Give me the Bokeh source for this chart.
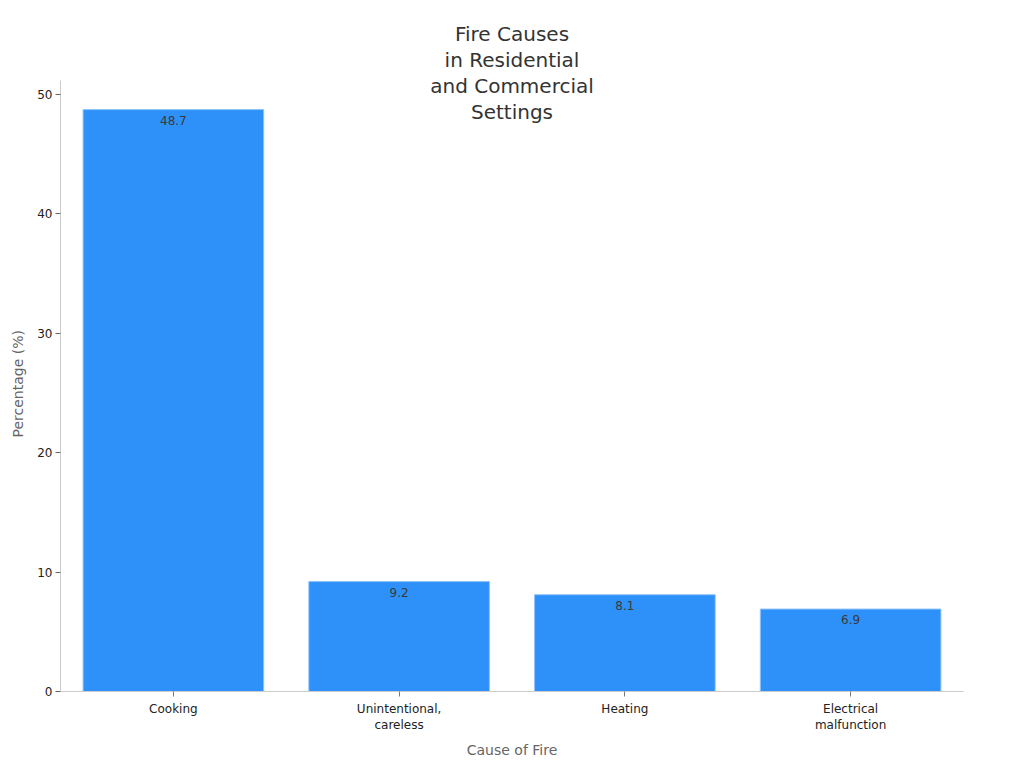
from bokeh.plotting import figure
from bokeh.models import ColumnDataSource, LabelSet, Label, Range1d, Title
from bokeh.core.properties import value
from bokeh.embed import file_html
from bokeh.resources import INLINE

categories = ["Cooking", "Unintentional,\ncareless", "Heating", "Electrical\nmalfunction"]
values = [48.7, 9.2, 8.1, 6.9]
value_labels = ["48.7", "9.2", "8.1", "6.9"]
title_lines = ["Fire Causes", "in Residential", "and Commercial", "Settings"]
x_title = "Cause of Fire"
y_title = "Percentage (%)"

FONT = "DejaVu Sans"

# layout (pixels)
FRAME_TOP_EXTRA = 64       # room above the value axis for the overlapping title
AXIS_PX = 611              # pixel height of the value axis
LINE_CENTERS_PX = [47, 21, -5, -31]  # title line centres, px above axis top

y_axis_max = max(values) * 1.05
px_per_unit = AXIS_PX / y_axis_max
y_frame_max = y_axis_max + FRAME_TOP_EXTRA / px_per_unit

src = ColumnDataSource(dict(cat=categories, val=values, lab=value_labels))

p = figure(x_range=categories, frame_width=903, frame_height=AXIS_PX + FRAME_TOP_EXTRA,
           output_backend="svg", toolbar_location=None,
           min_border_left=60, min_border_right=45, min_border_top=16, min_border_bottom=69)
p.y_range = Range1d(0, y_frame_max)
p.x_range.range_padding = 0

p.vbar(x="cat", top="val", width=0.8, source=src,
       fill_color="#2E91F9", line_color="#8EC3FA", line_width=1)

labels = LabelSet(x="cat", y="val", text="lab", source=src, text_align="center",
                  text_baseline="top", y_offset=-6, text_font_size="12px",
                  text_color="#3a3a3a", text_font=value(FONT))
p.add_layout(labels)

for line, off in zip(title_lines, LINE_CENTERS_PX):
    p.add_layout(Label(x=2, y=y_axis_max + off / px_per_unit, x_units="data", y_units="data",
                       text=line, text_align="center", text_baseline="middle",
                       text_font_size="20px", text_color="#333333", text_font=FONT))

# y-axis title, centred on the value axis (not on the taller frame)
ytitle = Title(text=y_title, align="left", offset=254, vertical_align="top", text_font=FONT,
               text_font_size="14px", text_font_style="normal", text_color="#666666",
               standoff=14)
p.add_layout(ytitle, "left")

p.outline_line_color = None
p.xgrid.grid_line_color = None
p.ygrid.grid_line_color = None
p.background_fill_color = "white"
p.border_fill_color = "white"

p.xaxis.axis_label = x_title
for ax in (p.xaxis[0], p.yaxis[0]):
    ax.axis_label_text_font = FONT
    ax.axis_label_text_font_size = "14px"
    ax.axis_label_text_font_style = "normal"
    ax.axis_label_text_color = "#666666"
    ax.major_label_text_font = FONT
    ax.major_label_text_font_size = "12px"
    ax.major_label_text_color = "#222222"
    ax.axis_line_color = "#cccccc"
    ax.minor_tick_line_color = None

p.yaxis.bounds = (0, y_axis_max)
p.yaxis.major_tick_line_color = "#666666"
p.yaxis.major_tick_out = 5
p.yaxis.major_tick_in = 0
p.yaxis.major_label_standoff = 3
p.yaxis.ticker.desired_num_ticks = 6

p.xaxis.major_tick_line_color = "#777777"
p.xaxis.major_tick_out = 5
p.xaxis.major_tick_in = 0
p.xaxis.axis_label_standoff = 7

open("out.html", "w").write(file_html(p, INLINE))
